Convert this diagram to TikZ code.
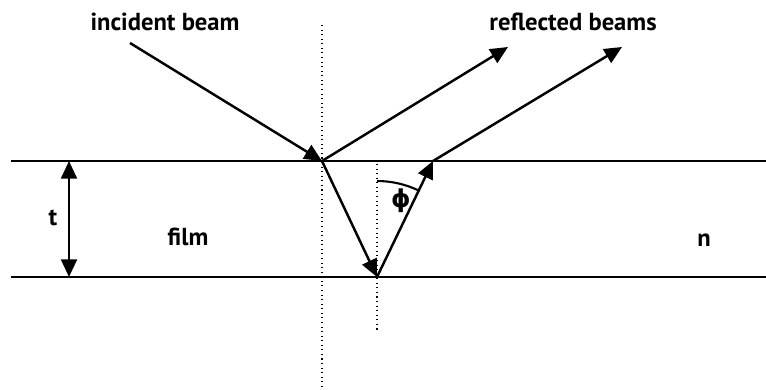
\documentclass[tikz,border=0pt]{standalone}
\usepackage{amsmath}
\usepackage{fontspec}
\setmainfont{PT Sans}
\newfontfamily\greekfont{DejaVu Sans}
\usepackage{tikz}
\usetikzlibrary{arrows.meta, calc}

\begin{document}
\begin{tikzpicture}[
			x=0.02cm, y=-0.02cm,
			surface/.style={line width=1.5pt},
			beam/.style={line width=1.4pt, -{Triangle[length=10pt, width=9pt]}},
			normal/.style={line width=0.6pt, dotted},
			lbl/.style={font=\bfseries\fontsize{14}{16}\selectfont, inner sep=1pt}
			]
			\useasboundingbox (0,0) rectangle (766,389);
			% Film surfaces
			\coordinate (topL) at (11,161);
			\coordinate (topR) at (766,161);
			\coordinate (botL) at (11,277);
			\coordinate (botR) at (766,277);
			\draw [surface] (topL) -- (topR);
			\draw [surface] (botL) -- (botR);
			
			% Beam points
			\coordinate (src) at (130,43);
			\coordinate (hitA) at (322,161);
			\coordinate (hitB) at (377,277);
			\coordinate (hitC) at (433,161);
			\coordinate (outA) at (508,47);
			\coordinate (outB) at (622,47);
			
			% Normals
			\coordinate (nA1) at (322,25);
			\coordinate (nA2) at (322,388);
			\coordinate (nB1) at (377,164);
			\coordinate (nB2) at (377,332);
			\draw [normal] (nA1) -- (nA2);
			\draw [normal] (nB1) -- (nB2);
			
			% Thickness
			\coordinate (tTop) at (69,161);
			\coordinate (tBot) at (69,277);
			\draw [beam, {Triangle[length=10pt, width=9pt]}-{Triangle[length=10pt, width=9pt]}] (tTop) -- (tBot);
			\node (tlbl) [lbl] at (53,218) {t};
			
			% Labels
			\node (incident) [lbl] at (165,22) {incident beam};
			\node (reflected) [lbl] at (573,22) {reflected beams};
			\node (film) [lbl] at (188,237) {film};
			\node (index) [lbl] at (704,240) {n};
			
			% Beams
			\draw [beam] (src) -- (hitA);
			\draw [beam] (hitA) -- (outA);
			\draw [beam] (hitA) -- (hitB);
			\draw [beam] (hitB) -- (hitC);
			\draw [beam] (hitC) -- (outB);
			
			% Angle
			\draw [line width=1.2pt] ($(hitB)+(0,-96)$) arc[start angle=90, end angle=64, radius=1.92cm];
			\node (phi) [lbl] at (401,201) {\greekfont ϕ};
		\end{tikzpicture}
\end{document}
